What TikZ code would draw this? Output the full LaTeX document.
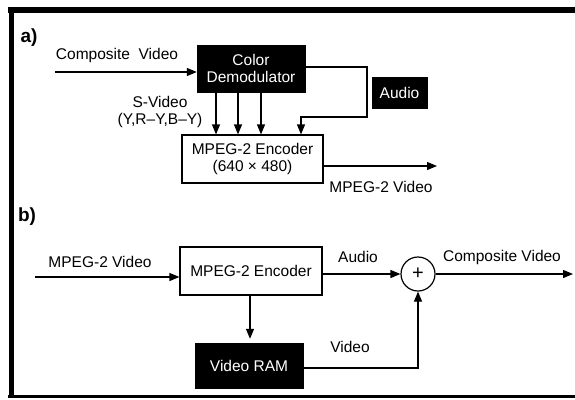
\documentclass[tikz,border=0pt]{standalone}
\usepackage{fontspec}
\setmainfont{Liberation Sans}
\usetikzlibrary{arrows.meta,calc}
\begin{document}
\begin{tikzpicture}[x=1pt,y=-1pt,
  every node/.style={font=\fontsize{15.5}{16.5}\selectfont, inner sep=0pt},
  arr/.style={line width=1.2pt,-{Triangle[length=10pt,width=8pt]}},
  blackbox/.style={draw=black, fill=black, text=white, align=center},
  whitebox/.style={draw=black, line width=1.2pt, fill=white, align=center},
  lbl/.style={text=black},
  panel/.style={font=\fontsize{19}{20}\selectfont\bfseries}]
\useasboundingbox (0,0) rectangle (575,399);
% frame
\draw[line width=6pt] (8,10) -- (575,10);
\draw[line width=5pt] (11,10) -- (11,396);
\draw[line width=3pt] (8,396) -- (575,396);

% ---------- panel a ----------
\node[panel] (pa) at (29,38) {a)};
\node[blackbox, minimum width=108, minimum height=47] (demod) at (251,68.5) {Color\\Demodulator};
\node[whitebox, minimum width=141, minimum height=48] (enc1) at (252.5,159) {MPEG-2 Encoder\\(640 × 480)};
\node[blackbox, minimum width=55, minimum height=31] (audio) at (399.5,92.5) {Audio};
\node[lbl] (cvt) at (117,55) {Composite\ \ Video};
\node[lbl, align=center] (svt) at (160,112) {S-Video\\(Y,R–Y,B–Y)};
\node[lbl] (mvt) at (381,187) {MPEG-2 Video};

\coordinate (cvin) at (55,72);
\draw[arr] (cvin) -- (cvin -| demod.west);
\draw[arr] (demod.south -| 216,0) -- (enc1.north -| 216,0);
\draw[arr] (demod.south -| 238,0) -- (enc1.north -| 238,0);
\draw[arr] (demod.south -| 261,0) -- (enc1.north -| 261,0);
\draw[arr] (demod.east |- 0,67) -- (367,67) -- (367,117) -- (301,117) -- (enc1.north -| 301,0);
\coordinate (mvout) at (437,166);
\draw[arr] (enc1.east |- mvout) -- (mvout);

% ---------- panel b ----------
\node[panel] (pb) at (27,217) {b)};
\node[whitebox, minimum width=142, minimum height=48] (enc2) at (251,271) {MPEG-2 Encoder};
\node[blackbox, minimum width=108, minimum height=45] (vram) at (249,365.5) {Video RAM};
\node[draw, circle, line width=1.2pt, minimum size=34, font=\fontsize{20}{20}\selectfont] (sum) at (418,274) {+};
\node[lbl] (mvin) at (100,262) {MPEG-2 Video};
\node[lbl] (aut) at (358,257) {Audio};
\node[lbl] (cvo) at (502,257) {Composite Video};
\node[lbl] (vt) at (350,347) {Video};

\coordinate (bin) at (35,277);
\draw[arr] (bin) -- (bin -| enc2.west);
\draw[arr] (enc2.south -| 250,0) -- ($(vram.north -| 250,0)+(0,-4)$);
\draw[arr] (enc2.east |- sum) -- (sum.west);
\coordinate (cvend) at (573,274);
\draw[arr] (sum.east) -- (cvend);
\draw[arr] (vram.east |- 0,368) -| (sum.south);
\end{tikzpicture}
\end{document}
